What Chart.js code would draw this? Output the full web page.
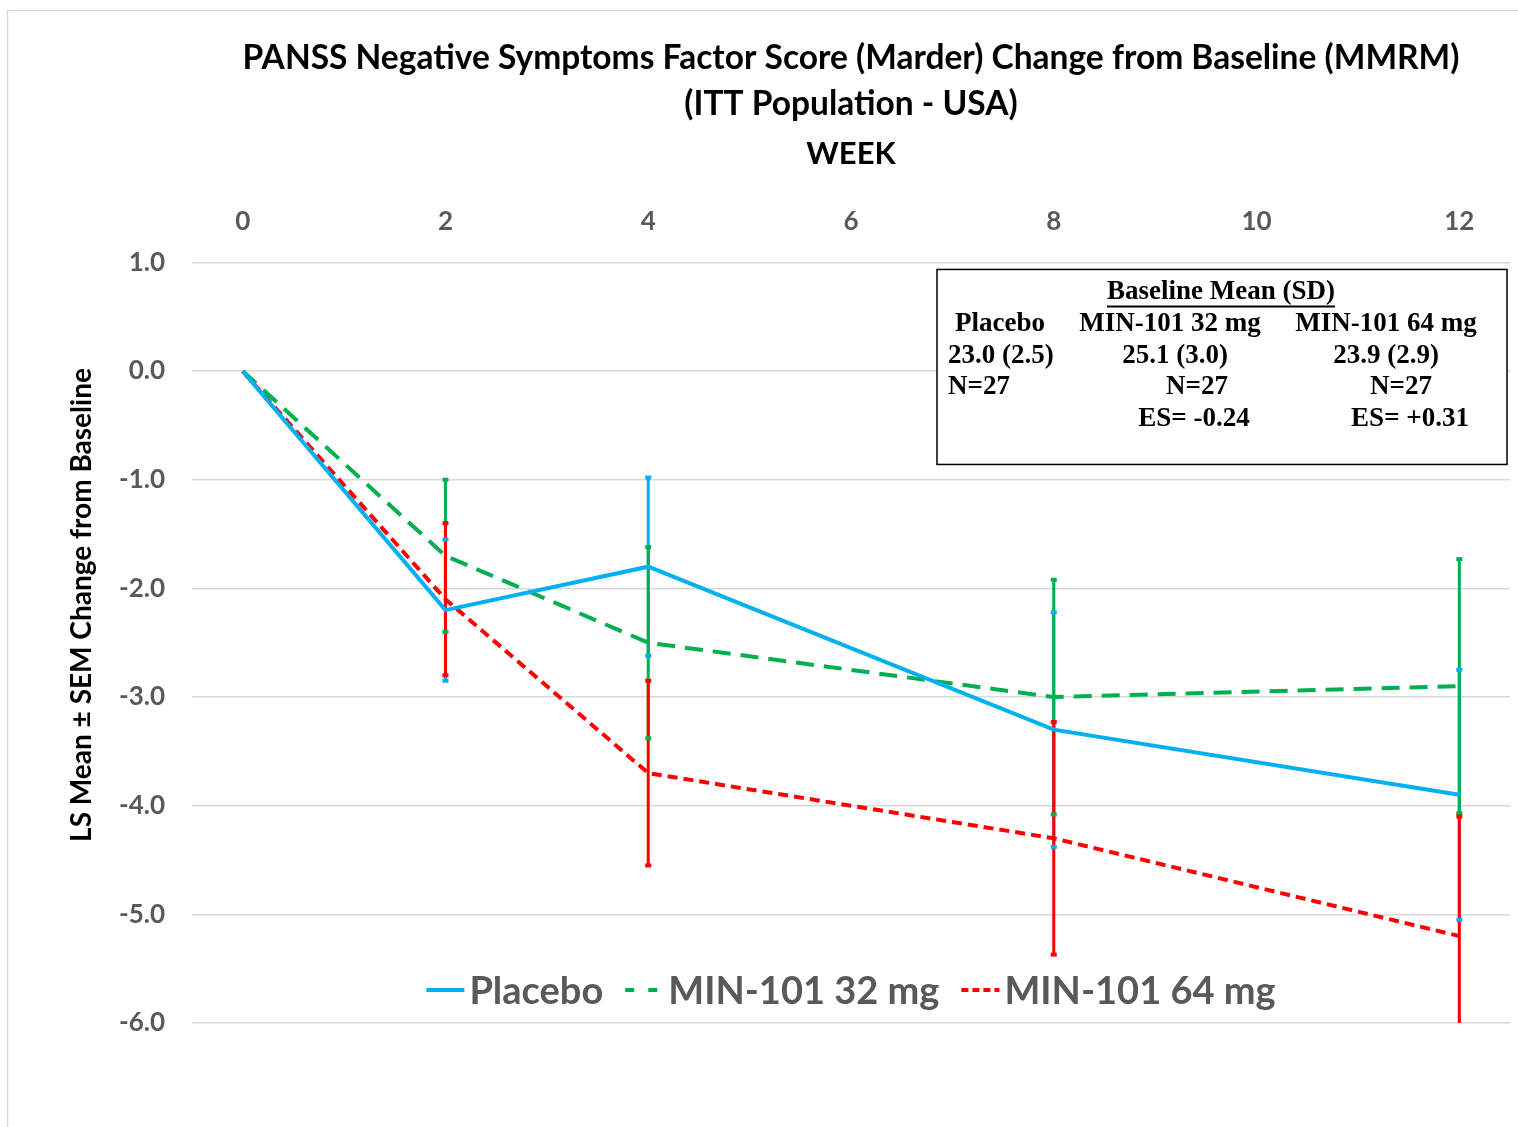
<!DOCTYPE html>
<html>
<head>
<meta charset="utf-8">
<script src="https://cdn.jsdelivr.net/npm/chart.js@4"></script>
<style>
  body { margin: 0; background: #fff; }
  canvas { display: block; }
</style>
</head>
<body>
<canvas id="panssChart" width="1518" height="1127"></canvas>
<script>
// data
const weeks = [0, 2, 4, 8, 12];
const weekTicks = [0, 2, 4, 6, 8, 10, 12];
const seriesNames = ["Placebo", "MIN-101 32 mg", "MIN-101 64 mg"];
const placeboMean = [0, -2.2, -1.8, -3.3, -3.9];
const placeboSem = [0, 0.65, 0.82, 1.08, 1.15];
const mg32Mean = [0, -1.7, -2.5, -3.0, -2.9];
const mg32Sem = [0, 0.7, 0.88, 1.08, 1.17];
const mg64Mean = [0, -2.1, -3.7, -4.3, -5.2];
const mg64Sem = [0, 0.7, 0.85, 1.07, 1.1];

const colors = ["#00B0F0", "#00B050", "#FF0000"];
const dashes = [[], [18, 10], [10, 6]];

const toPoints = (ys) => weeks.map((w, i) => ({ x: w, y: ys[i] }));

// error bars: drawn under the lines, caps on top of all bars
const errorBars = {
    id: "errorBars",
    beforeDatasetsDraw(chart) {
        const { ctx, chartArea, scales: { x, y } } = chart;
        ctx.save();
        ctx.beginPath();
        ctx.rect(chartArea.left, chartArea.top, chartArea.width, chartArea.height);
        ctx.clip();
        const caps = [];
        chart.data.datasets.forEach((ds) => {
            ds.data.forEach((p, i) => {
                const e = ds.sem[i];
                if (!e) return;
                const px = x.getPixelForValue(p.x);
                const y1 = y.getPixelForValue(p.y + e);
                const y2 = y.getPixelForValue(p.y - e);
                ctx.strokeStyle = ds.borderColor;
                ctx.lineWidth = 3;
                ctx.beginPath();
                ctx.moveTo(px, y1);
                ctx.lineTo(px, y2);
                ctx.stroke();
                caps.push([px, y1, ds.borderColor], [px, y2, ds.borderColor]);
            });
        });
        caps.forEach(([px, py, c]) => {
            ctx.fillStyle = c;
            ctx.fillRect(px - 3, py - 2, 6, 4);
        });
        ctx.restore();
    }
};

// legend inside plot, box with baseline stats, frame, y title
const decorations = {
    id: "decorations",
    beforeDraw(chart) {
        const { ctx, width, height } = chart;
        ctx.save();
        ctx.fillStyle = "#fff";
        ctx.fillRect(0, 0, width, height);
        ctx.strokeStyle = "#d9d9d9";
        ctx.lineWidth = 1.5;
        ctx.strokeRect(7.5, 10.5, width + 20, height + 20);
        ctx.restore();
    },
    afterDraw(chart) {
        const { ctx, chartArea } = chart;
        ctx.save();

        // y axis title
        ctx.translate(82, 605);
        ctx.rotate(-Math.PI / 2);
        ctx.fillStyle = "#000";
        ctx.font = "bold 28px Lato";
        ctx.textAlign = "center";
        ctx.textBaseline = "middle";
        ctx.fillText("LS Mean \u00b1 SEM Change from Baseline", 0, 0);
        ctx.setTransform(1, 0, 0, 1, 0, 0);

        // legend
        ctx.font = "bold 38px Lato";
        ctx.textAlign = "left";
        const sample = 38, gap = 5, spacing = 22;
        const widths = seriesNames.map(n => ctx.measureText(n).width);
        const total = widths.reduce((s, w) => s + sample + gap + w, 0) + spacing * (seriesNames.length - 1);
        let lx = (chartArea.left + chartArea.right) / 2 - total / 2;
        const ly = chartArea.bottom - 33;
        seriesNames.forEach((n, i) => {
            ctx.strokeStyle = colors[i];
            ctx.lineWidth = 4;
            ctx.setLineDash(i === 1 ? [9, 14] : i === 2 ? [7, 4] : []);
            ctx.beginPath();
            ctx.moveTo(lx, ly);
            ctx.lineTo(lx + sample, ly);
            ctx.stroke();
            ctx.setLineDash([]);
            ctx.fillStyle = "#595959";
            ctx.fillText(n, lx + sample + gap, ly + 2);
            lx += sample + gap + widths[i] + spacing;
        });

        // baseline box
        const bx = chartArea.right - 573, by = chartArea.top + 7, bw = 570, bh = 195;
        ctx.fillStyle = "#fff";
        ctx.fillRect(bx, by, bw, bh);
        ctx.strokeStyle = "#000";
        ctx.lineWidth = 1.5;
        ctx.strokeRect(bx, by, bw, bh);
        ctx.fillStyle = "#000";
        ctx.font = "bold 27px 'Liberation Serif'";
        ctx.textBaseline = "middle";
        const cells = [
            ["Baseline Mean (SD)", 284, 23, "center"],
            ["Placebo", 63, 55, "center"], ["MIN-101 32 mg", 233, 55, "center"], ["MIN-101 64 mg", 449, 55, "center"],
            ["23.0 (2.5)", 11, 87, "left"], ["25.1 (3.0)", 238, 87, "center"], ["23.9 (2.9)", 449, 87, "center"],
            ["N=27", 11, 118, "left"], ["N=27", 260, 118, "center"], ["N=27", 464, 118, "center"],
            ["ES= -0.24", 257, 150, "center"], ["ES= +0.31", 473, 150, "center"]
        ];
        cells.forEach(([t, dx, dy, al]) => {
            ctx.textAlign = al;
            ctx.fillText(t, bx + dx, by + dy);
        });
        const hw = ctx.measureText("Baseline Mean (SD)").width;
        ctx.lineWidth = 2;
        ctx.beginPath();
        ctx.moveTo(bx + 284 - hw / 2, by + 37);
        ctx.lineTo(bx + 284 + hw / 2, by + 37);
        ctx.stroke();

        ctx.restore();
    }
};

const sems = [placeboSem, mg32Sem, mg64Sem];
const means = [placeboMean, mg32Mean, mg64Mean];

new Chart(document.getElementById("panssChart").getContext("2d"), {
    type: "line",
    data: {
        datasets: seriesNames.map((n, i) => ({
            label: n,
            data: toPoints(means[i]),
            sem: sems[i],
            borderColor: colors[i],
            borderWidth: 4,
            borderDash: dashes[i],
            pointRadius: 0,
            tension: 0,
            fill: false
        }))
    },
    options: {
        responsive: false,
        animation: false,
        layout: { padding: { left: 0, right: 8, top: 0, bottom: 104 } },
        plugins: {
            legend: { display: false },
            tooltip: { enabled: false },
            title: {
                display: true,
                fullSize: false,
                text: [
                    "PANSS Negative Symptoms Factor Score (Marder) Change from Baseline (MMRM)",
                    "(ITT Population - USA)"
                ],
                color: "#000",
                font: { family: "Lato", size: 33.5, weight: "bold", lineHeight: 1.35 },
                padding: { top: 36, bottom: 0 }
            }
        },
        scales: {
            x: {
                type: "linear",
                position: "top",
                min: -0.5,
                max: 12.5,
                afterBuildTicks: (s) => { s.ticks = weekTicks.map(v => ({ value: v })); },
                afterFit: (s) => { s.height = 136; },
                grid: { display: false },
                border: { display: false },
                ticks: { color: "#595959", font: { family: "Lato", size: 26, weight: "bold" }, padding: 17 },
                title: {
                    display: true,
                    text: "WEEK",
                    color: "#000",
                    font: { family: "Lato", size: 31, weight: "bold" },
                    padding: { top: 9, bottom: 0 }
                }
            },
            y: {
                min: -6,
                max: 1,
                afterFit: (s) => { s.width = 192; },
                grid: { color: "#d9d9d9", lineWidth: 1.5, drawTicks: false },
                border: { display: false },
                ticks: {
                    stepSize: 1,
                    color: "#595959",
                    font: { family: "Lato", size: 26, weight: "bold" },
                    padding: 27,
                    callback: (v) => v.toFixed(1)
                }
            }
        }
    },
    plugins: [errorBars, decorations]
});
</script>
</body>
</html>
